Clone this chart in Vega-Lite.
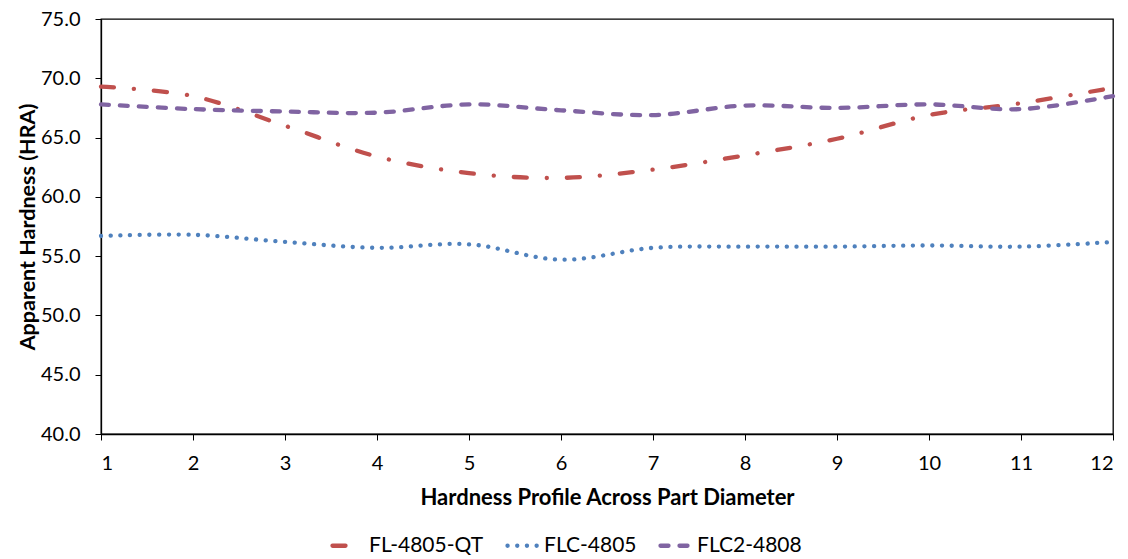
{
  "$schema": "https://vega.github.io/schema/vega-lite/v6.json",
  "width": 1012,
  "height": 415,
  "autosize": {"type": "none"},
  "padding": {"left": 101, "top": 19, "right": 15, "bottom": 125},
  "background": "white",
  "config": {"view": {"stroke": "#000", "strokeWidth": 1.3}, "font": "Lato"},
  "data": {
    "values": [
      {"pos": 1, "series": "FL-4805-QT", "hra": 69.3},
      {"pos": 2, "series": "FL-4805-QT", "hra": 68.5},
      {"pos": 3, "series": "FL-4805-QT", "hra": 66.0},
      {"pos": 4, "series": "FL-4805-QT", "hra": 63.4},
      {"pos": 5, "series": "FL-4805-QT", "hra": 62.0},
      {"pos": 6, "series": "FL-4805-QT", "hra": 61.6},
      {"pos": 7, "series": "FL-4805-QT", "hra": 62.3},
      {"pos": 8, "series": "FL-4805-QT", "hra": 63.5},
      {"pos": 9, "series": "FL-4805-QT", "hra": 64.9},
      {"pos": 10, "series": "FL-4805-QT", "hra": 66.9},
      {"pos": 11, "series": "FL-4805-QT", "hra": 67.9},
      {"pos": 12, "series": "FL-4805-QT", "hra": 69.2},
      {"pos": 1, "series": "FLC-4805", "hra": 56.7},
      {"pos": 2, "series": "FLC-4805", "hra": 56.8},
      {"pos": 3, "series": "FLC-4805", "hra": 56.2},
      {"pos": 4, "series": "FLC-4805", "hra": 55.7},
      {"pos": 5, "series": "FLC-4805", "hra": 56.0},
      {"pos": 6, "series": "FLC-4805", "hra": 54.7},
      {"pos": 7, "series": "FLC-4805", "hra": 55.7},
      {"pos": 8, "series": "FLC-4805", "hra": 55.8},
      {"pos": 9, "series": "FLC-4805", "hra": 55.8},
      {"pos": 10, "series": "FLC-4805", "hra": 55.9},
      {"pos": 11, "series": "FLC-4805", "hra": 55.8},
      {"pos": 12, "series": "FLC-4805", "hra": 56.2},
      {"pos": 1, "series": "FLC2-4808", "hra": 67.8},
      {"pos": 2, "series": "FLC2-4808", "hra": 67.4},
      {"pos": 3, "series": "FLC2-4808", "hra": 67.2},
      {"pos": 4, "series": "FLC2-4808", "hra": 67.1},
      {"pos": 5, "series": "FLC2-4808", "hra": 67.8},
      {"pos": 6, "series": "FLC2-4808", "hra": 67.3},
      {"pos": 7, "series": "FLC2-4808", "hra": 66.9},
      {"pos": 8, "series": "FLC2-4808", "hra": 67.7},
      {"pos": 9, "series": "FLC2-4808", "hra": 67.5},
      {"pos": 10, "series": "FLC2-4808", "hra": 67.8},
      {"pos": 11, "series": "FLC2-4808", "hra": 67.4},
      {"pos": 12, "series": "FLC2-4808", "hra": 68.5}
    ]
  },
  "mark": {"type": "line", "interpolate": "catmull-rom", "strokeCap": "round", "strokeWidth": 4.3},
  "encoding": {
    "x": {
      "field": "pos", "type": "quantitative",
      "scale": {"domain": [1, 12], "nice": false},
      "axis": {
        "values": [1, 2, 3, 4, 5, 6, 7, 8, 9, 10, 11, 12],
        "title": "Hardness Profile Across Part Diameter",
        "titleFontSize": 22, "titleFontWeight": "bold", "titleColor": "#000",
        "labelFontSize": 20, "labelColor": "#000", "labelFontWeight": "normal",
        "domainColor": "#000", "domainWidth": 1.3, "tickColor": "#000", "grid": false,
        "tickSize": 6, "labelPadding": 13, "titlePadding": 14
      }
    },
    "y": {
      "field": "hra", "type": "quantitative",
      "scale": {"domain": [40, 75], "nice": false, "zero": false},
      "axis": {
        "values": [40, 45, 50, 55, 60, 65, 70, 75],
        "format": ".1f",
        "title": "Apparent Hardness (HRA)",
        "titleFontSize": 21.5, "titleFontWeight": "bold", "titleColor": "#000",
        "labelFontSize": 20, "labelColor": "#000",
        "domainColor": "#000", "domainWidth": 1.3, "tickColor": "#000", "grid": false,
        "tickSize": 6, "labelPadding": 15, "titlePadding": 1
      }
    },
    "color": {
      "field": "series", "type": "nominal",
      "scale": {"domain": ["FL-4805-QT", "FLC-4805", "FLC2-4808"], "range": ["#C0504D", "#4F81BD", "#8064A2"]},
      "legend": {
        "orient": "none", "legendX": 229, "legendY": 508, "direction": "horizontal",
        "title": null, "symbolType": "stroke", "symbolSize": 1024, "symbolStrokeWidth": 4.3,
        "labelFontSize": 21, "labelColor": "#000", "labelOffset": 2, "columnPadding": 14,
        "encode": {"symbols": {"update": {"strokeCap": {"value": "round"}}}}
      }
    },
    "strokeDash": {
      "field": "series", "type": "nominal",
      "scale": {"domain": ["FL-4805-QT", "FLC-4805", "FLC2-4808"], "range": [[13, 20, 0.1, 20], [0.1, 9.6], [8, 11]]}
    }
  }
}
